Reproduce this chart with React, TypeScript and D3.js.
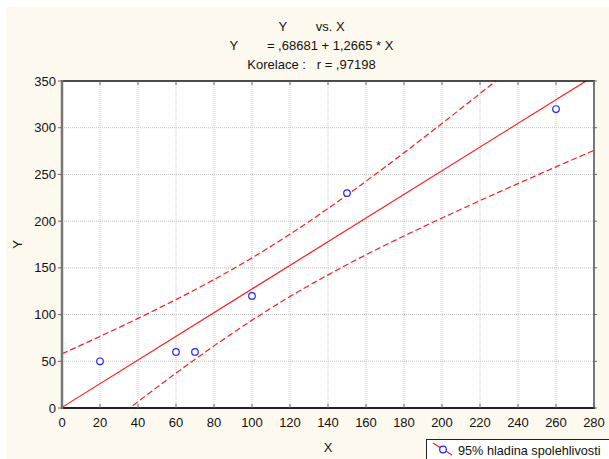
import { useEffect, useRef } from "react"
import * as d3 from "d3"

// observed points
const xValues = [20, 60, 70, 100, 150, 260]
const yValues = [50, 60, 60, 120, 230, 320]

// fitted line end points (read at x = 0 and x = 280)
const fitX = [0, 280]
const fitY = [0.69, 355.31]

// 95% band, read at every x tick
const bandX = [0, 20, 40, 60, 80, 100, 120, 140, 160, 180, 200, 220, 240, 260, 280]
const upperY = [58.0, 76.6, 95.9, 116.0, 137.5, 160.7, 186.1, 213.5, 242.7, 273.2, 304.6, 336.6, 369.1, 401.8, 434.8]
const lowerY = [-56.6, -24.6, 6.8, 37.3, 66.5, 93.9, 119.3, 142.5, 164.0, 184.1, 203.4, 222.0, 240.2, 258.1, 275.8]

const titleLines = ["Y        vs. X", "Y        = ,68681 + 1,2665 * X", "Korelace :   r = ,97198"]
const xTitle = "X"
const yTitle = "Y"
const legendLabel = "95% hladina spolehlivosti"

export default function App() {
    const ref = useRef<SVGSVGElement>(null)

    useEffect(() => {
        const width = 609, height = 459
        const margin = { top: 81, left: 62, right: 15, bottom: 51 }
        const font = "Liberation Sans, Arial, sans-serif"

        const svg = d3.select(ref.current)
        svg.selectAll("*").remove()

        svg.append("rect")
            .attr("x", 6).attr("y", 7)
            .attr("width", width - 6).attr("height", height - 7)
            .attr("fill", "#fef9ee")

        const xScale = d3.scaleLinear().domain([0, 280]).range([margin.left, width - margin.right])
        const yScale = d3.scaleLinear().domain([0, 350]).range([height - margin.bottom, margin.top])
        const [x0, x1] = xScale.range()
        const [y0, y1] = yScale.range()

        svg.append("rect")
            .attr("x", x0).attr("y", y1)
            .attr("width", x1 - x0).attr("height", y0 - y1)
            .attr("fill", "white")

        svg.append("clipPath").attr("id", "plotClip")
            .append("rect")
            .attr("x", x0).attr("y", y1)
            .attr("width", x1 - x0).attr("height", y0 - y1)

        const xTicks = xScale.ticks(14)
        const yTicks = yScale.ticks(7)

        // grid
        const grid = svg.append("g")
        grid.selectAll(".vgrid")
            .data(xTicks.filter(d => d > 0 && d < 280))
            .join("line")
            .attr("x1", d => xScale(d)).attr("x2", d => xScale(d))
            .attr("y1", y1).attr("y2", y0)
            .attr("stroke", "#c4c4c4").attr("stroke-width", 1)
            .attr("stroke-dasharray", "1,1")
        grid.selectAll(".hgrid")
            .data(yTicks.filter(d => d > 0 && d < 350))
            .join("line")
            .attr("x1", x0).attr("x2", x1)
            .attr("y1", d => yScale(d)).attr("y2", d => yScale(d))
            .attr("stroke", "#c4c4c4").attr("stroke-width", 1)
            .attr("stroke-dasharray", "1,1")

        // lines
        const plot = svg.append("g").attr("clip-path", "url(#plotClip)")

        const line = d3.line<[number, number]>()
            .x(d => xScale(d[0]))
            .y(d => yScale(d[1]))

        plot.append("path")
            .attr("d", line(fitX.map((x, i) => [x, fitY[i]])))
            .attr("fill", "none").attr("stroke", "#ff1a1a").attr("stroke-width", 1.2)

        const bandLine = d3.line<[number, number]>()
            .x(d => xScale(d[0]))
            .y(d => yScale(d[1]))
            .curve(d3.curveMonotoneX)

        ;[upperY, lowerY].forEach(vals => {
            plot.append("path")
                .attr("d", bandLine(bandX.map((x, i) => [x, vals[i]])))
                .attr("fill", "none").attr("stroke", "#ff1a1a").attr("stroke-width", 1.2)
                .attr("stroke-dasharray", "6,3")
        })

        plot.selectAll(".pt")
            .data(xValues.map((x, i) => [x, yValues[i]]))
            .join("circle")
            .attr("cx", d => xScale(d[0])).attr("cy", d => yScale(d[1]))
            .attr("r", 3.3)
            .attr("fill", "white").attr("stroke", "#2222ff").attr("stroke-width", 1.2)

        // frame
        svg.append("line").attr("x1", x0).attr("x2", x1 + 1).attr("y1", y1).attr("y2", y1)
            .attr("stroke", "#111").attr("stroke-width", 1.5)
        svg.append("line").attr("x1", x1).attr("x2", x1).attr("y1", y1).attr("y2", y0)
            .attr("stroke", "#777").attr("stroke-width", 2)
        svg.append("line").attr("x1", x0).attr("x2", x1 + 1).attr("y1", y0).attr("y2", y0)
            .attr("stroke", "#222").attr("stroke-width", 2)
        svg.append("line").attr("x1", x0).attr("x2", x0).attr("y1", y1 - 1).attr("y2", y0 + 1)
            .attr("stroke", "#777").attr("stroke-width", 2.5)

        // ticks
        const ticks = svg.append("g").attr("stroke", "#666").attr("stroke-width", 1)
        ticks.selectAll(".tb").data(xTicks).join("line")
            .attr("x1", d => xScale(d)).attr("x2", d => xScale(d))
            .attr("y1", y0).attr("y2", y0 - 4)
        ticks.selectAll(".tt").data(xTicks).join("line")
            .attr("x1", d => xScale(d)).attr("x2", d => xScale(d))
            .attr("y1", y1).attr("y2", y1 + 4)
        ticks.selectAll(".tl").data(yTicks).join("line")
            .attr("x1", x0).attr("x2", x0 - 4)
            .attr("y1", d => yScale(d)).attr("y2", d => yScale(d))
        ticks.selectAll(".tr").data(yTicks).join("line")
            .attr("x1", x1).attr("x2", x1 + 3)
            .attr("y1", d => yScale(d)).attr("y2", d => yScale(d))

        // tick labels
        svg.append("g").selectAll("text").data(xTicks).join("text")
            .attr("x", d => xScale(d)).attr("y", y0 + 19)
            .attr("text-anchor", "middle")
            .attr("font-family", font).attr("font-size", 13).attr("fill", "#111")
            .text(d => d)
        svg.append("g").selectAll("text").data(yTicks).join("text")
            .attr("x", x0 - 6).attr("y", d => yScale(d) + 4.5)
            .attr("text-anchor", "end")
            .attr("font-family", font).attr("font-size", 13).attr("fill", "#111")
            .text(d => d)

        // titles
        svg.append("g").selectAll("text").data(titleLines).join("text")
            .attr("x", (width + 6) / 2 + 4).attr("y", (d, i) => 31 + i * 19)
            .attr("text-anchor", "middle")
            .attr("font-family", font).attr("font-size", 13).attr("fill", "#111")
            .style("white-space", "pre")
            .text(d => d)

        svg.append("text")
            .attr("x", (x0 + x1) / 2).attr("y", 452)
            .attr("text-anchor", "middle")
            .attr("font-family", font).attr("font-size", 13).attr("fill", "#111")
            .text(xTitle)
        svg.append("text")
            .attr("transform", `translate(22, ${(y0 + y1) / 2}) rotate(-90)`)
            .attr("text-anchor", "middle")
            .attr("font-family", font).attr("font-size", 13).attr("fill", "#111")
            .text(yTitle)

        // legend
        const legend = svg.append("g")
        legend.append("rect")
            .attr("x", 426.5).attr("y", 439.5)
            .attr("width", 200).attr("height", 40)
            .attr("fill", "white").attr("stroke", "#222").attr("stroke-width", 1)
        legend.append("line")
            .attr("x1", 433).attr("y1", 443).attr("x2", 452).attr("y2", 455)
            .attr("stroke", "#ff1a1a").attr("stroke-width", 1.2)
        legend.append("circle")
            .attr("cx", 443).attr("cy", 449.5).attr("r", 3.3)
            .attr("fill", "white").attr("stroke", "#2222ff").attr("stroke-width", 1.2)
        legend.append("text")
            .attr("x", 458).attr("y", 455)
            .attr("font-family", font).attr("font-size", 12.7).attr("fill", "#111")
            .text(legendLabel)
    }, [])

    return (
        <svg ref={ref} width={609} height={459}
            style={{ position: "absolute", left: 0, top: 0, display: "block", background: "white" }} />
    )
}
